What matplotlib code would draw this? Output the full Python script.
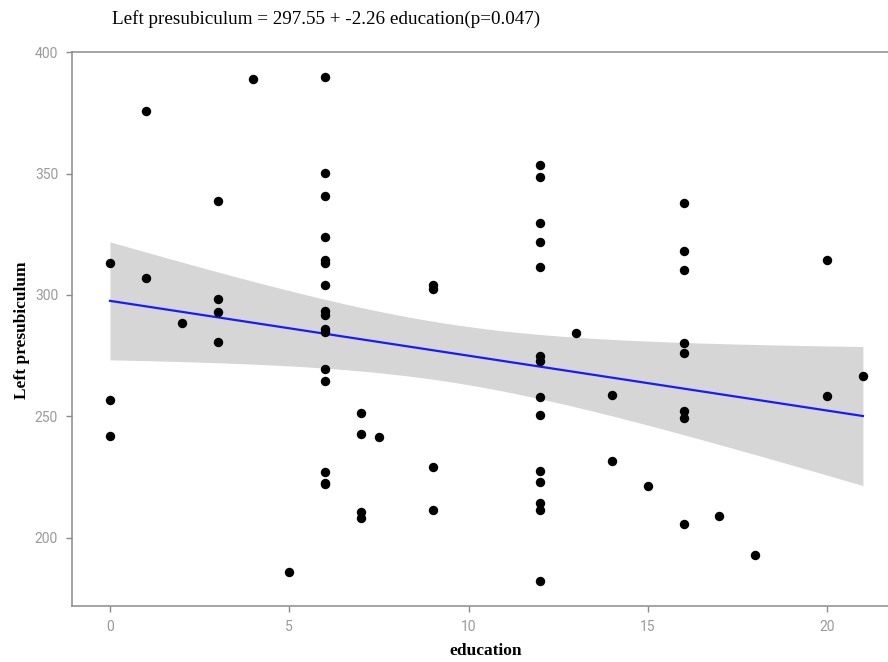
import numpy as np
import matplotlib
matplotlib.use("Agg")
import matplotlib.pyplot as plt

# Years of education and left presubiculum volume per subject
education = [
    0, 0, 0,
    1, 1,
    2,
    3, 3, 3, 3,
    4,
    5,
    6, 6, 6, 6, 6, 6, 6, 6, 6, 6, 6, 6, 6, 6, 6, 6,
    7, 7, 7, 7,
    7.5,
    9, 9, 9, 9,
    12, 12, 12, 12, 12, 12, 12, 12, 12, 12, 12, 12, 12, 12,
    13,
    14, 14,
    15,
    16, 16, 16, 16, 16, 16, 16, 16,
    17,
    18,
    20, 20,
    21,
]
presubiculum = [
    313.3, 256.5, 241.7,
    375.8, 307.0,
    288.6,
    338.6, 298.2, 292.9, 280.6,
    389.0,
    185.9,
    389.6, 350.3, 340.8, 324.0, 314.4, 313.3, 304.2, 293.2, 291.9, 285.8,
    284.9, 269.3, 264.5, 227.0, 222.6, 222.0,
    251.3, 242.7, 210.7, 208.2,
    241.5,
    303.9, 302.3, 229.0, 211.4,
    353.7, 348.4, 329.8, 321.7, 311.6, 274.9, 272.6, 258.0, 250.6, 227.6,
    223.1, 214.4, 211.4, 182.2,
    284.2,
    258.9, 231.5,
    221.2,
    338.0, 318.2, 310.2, 280.0, 276.0, 252.0, 249.2, 205.7,
    208.8,
    192.9,
    314.2, 258.2,
    266.6,
]

intercept = 297.55
slope = -2.26
p_value = 0.047

x_ticks = [0, 5, 10, 15, 20]
y_ticks = [200, 250, 300, 350, 400]

x = np.asarray(education, dtype=float)
y = np.asarray(presubiculum, dtype=float)

# 95% confidence band for the fitted mean
n = len(x)
resid = y - (intercept + slope * x)
s = np.sqrt(np.sum(resid ** 2) / (n - 2))
sxx = np.sum((x - x.mean()) ** 2)
t_crit = 1.994  # t quantile, 0.975, ~70 df
xs = np.linspace(x.min(), x.max(), 200)
fit = intercept + slope * xs
half = t_crit * s * np.sqrt(1.0 / n + (xs - x.mean()) ** 2 / sxx)

fig = plt.figure(figsize=(8.88, 6.62), dpi=100)
ax = fig.add_axes([72 / 888, 1 - 606 / 662, 816 / 888, (606 - 52) / 662])

ax.fill_between(xs, fit - half, fit + half, color="#d6d6d6", linewidth=0, zorder=1)
ax.plot(xs, fit, color="#1a1aff", linewidth=1.6, zorder=2)
ax.scatter(x, y, s=46, color="black", linewidths=0, zorder=3)

ax.set_xlim(-1.06, 21.70)
ax.set_ylim(171.8, 400.1)
ax.set_xticks(x_ticks)
ax.set_yticks(y_ticks)

axis_grey = "#8a8a8a"
for side in ["left", "bottom", "top"]:
    ax.spines[side].set_color(axis_grey)
    ax.spines[side].set_linewidth(1.1)
ax.spines["right"].set_visible(False)
ax.tick_params(axis="both", colors=axis_grey, labelcolor="#9a9a9a",
               labelsize=10, length=4, width=1.0, direction="out", pad=6)
for lab in ax.get_xticklabels() + ax.get_yticklabels():
    lab.set_family("Roboto")

fig.text(486 / 888, 1 - 651 / 662, "education", family="Liberation Serif",
         fontweight="bold", fontsize=12.5, ha="center", va="center")
fig.text(22 / 888, 1 - 330 / 662, "Left presubiculum", family="Liberation Serif",
         fontweight="bold", fontsize=12.5, ha="center", va="center",
         rotation=90)

fig.text(112 / 888, 1 - 19 / 662,
         f"Left presubiculum = {intercept} + {slope} education(p={p_value})",
         family="Liberation Serif", fontsize=13.8, ha="left", va="center")

fig.savefig("out.png", dpi=100)
